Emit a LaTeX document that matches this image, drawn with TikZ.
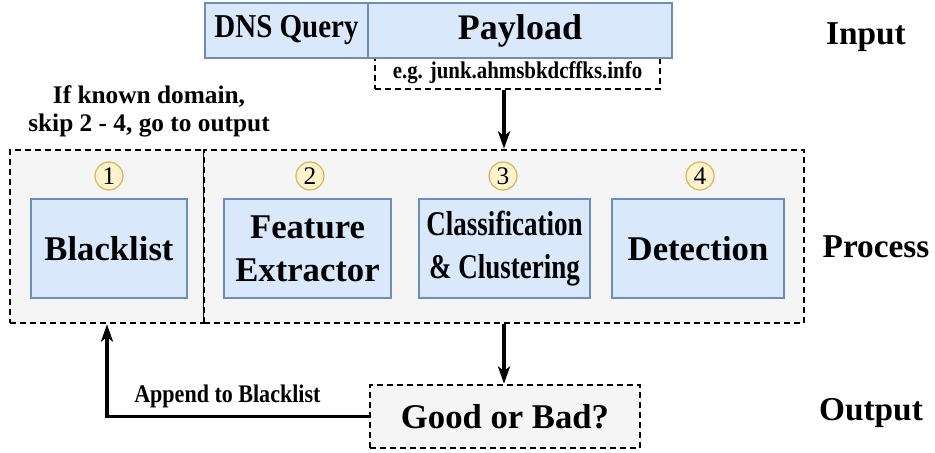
\documentclass[tikz,border=0pt]{standalone}
\usepackage{fontspec}
\setmainfont{Liberation Serif}
\newfontfamily\semifont[FakeStretch=0.87]{Liberation Serif}
\newfontfamily\narrowfont[FakeStretch=0.78]{Liberation Serif}
\usetikzlibrary{arrows.meta,positioning}
\definecolor{boxblue}{HTML}{DAE8FC}
\definecolor{lineblue}{HTML}{6C8EBF}
\definecolor{boxgray}{HTML}{F5F5F5}
\definecolor{numfill}{HTML}{FFF2CC}
\definecolor{numline}{HTML}{D6B656}

\begin{document}
\begin{tikzpicture}[x=0.75pt,y=-0.75pt,
  field/.style={draw=lineblue,fill=boxblue,line width=1.2pt,minimum height=41.25pt,inner sep=0pt},
  stage/.style={draw=lineblue,fill=boxblue,line width=1.2pt,minimum height=74.25pt,inner sep=0pt,align=center,font=\fontsize{26}{32}\selectfont\bfseries},
  dashbox/.style={draw,dash pattern=on 4.5pt off 3pt,line width=1.9pt,fill=boxgray,inner sep=0pt},
  num/.style={circle,draw=numline,fill=numfill,line width=0.9pt,minimum size=21pt,inner sep=0pt,font=\fontsize{19}{19}\selectfont},
  side/.style={font=\fontsize{25}{25}\selectfont\bfseries},
  flow/.style={-{Stealth[length=13pt,width=9pt,inset=3.5pt]},line width=2.4pt}]
\useasboundingbox (0,0) rectangle (935,453);
\node[dashbox,fill=white,minimum width=213.75pt,minimum height=24pt] (eg) at (517.5,73) {\semifont\bfseries\fontsize{18}{18}\selectfont\raisebox{-1.5pt}{e.g. junk.ahmsbkdcffks.info}};
\node[field,minimum width=122.25pt] (dns) at (286.5,30.5) {\semifont\bfseries\fontsize{25}{25}\selectfont DNS Query};
\node[field,minimum width=228pt] (payload) at (520,30.5) {\bfseries\fontsize{27}{27}\selectfont Payload};
\node[side] (input) at (866,37) {Input};
\node[align=center,font=\fontsize{19}{21}\selectfont\bfseries] (known) at (149,111) {If known domain,\\skip 2 - 4, go to output};
\node[dashbox,minimum width=145.5pt,minimum height=129.75pt] (left) at (107,236.5) {};
\node[dashbox,minimum width=450pt,minimum height=129.75pt] (right) at (504,236.5) {};
\node[stage,minimum width=117pt] (blacklist) at (109,248.5) {Blacklist};
\node[stage,minimum width=125.25pt] (feature) at (307.5,248.5) {Feature\\Extractor};
\node[stage,minimum width=128.25pt,font=\narrowfont\fontsize{26}{32}\selectfont\bfseries] (classif) at (504.5,248.5) {Classification\\\& Clustering};
\node[stage,minimum width=129pt] (detect) at (698,248.5) {Detection};
\node[num] (n1) at (109,176) {1};
\node[num] (n2) at (310,176) {2};
\node[num] (n3) at (503,176) {3};
\node[num] (n4) at (700,176) {4};
\node[side] (process) at (876,247) {Process};
\node[dashbox,minimum width=202.5pt,minimum height=47.25pt,font=\fontsize{26}{26}\selectfont\bfseries] (good) at (505,416.5) {\raisebox{-2pt}{Good or Bad?}};
\node[side] (output) at (871,413) {Output};
\draw[flow] (eg.south -| right.north) -- (right.north);
\draw[flow] (right.south) -- (right.south |- good.north);
\draw[flow] (good.west) -| (left.south) node[pos=0.27,above=2pt,font=\semifont\bfseries\fontsize{19}{19}\selectfont] {Append to Blacklist};
\end{tikzpicture}
\end{document}
